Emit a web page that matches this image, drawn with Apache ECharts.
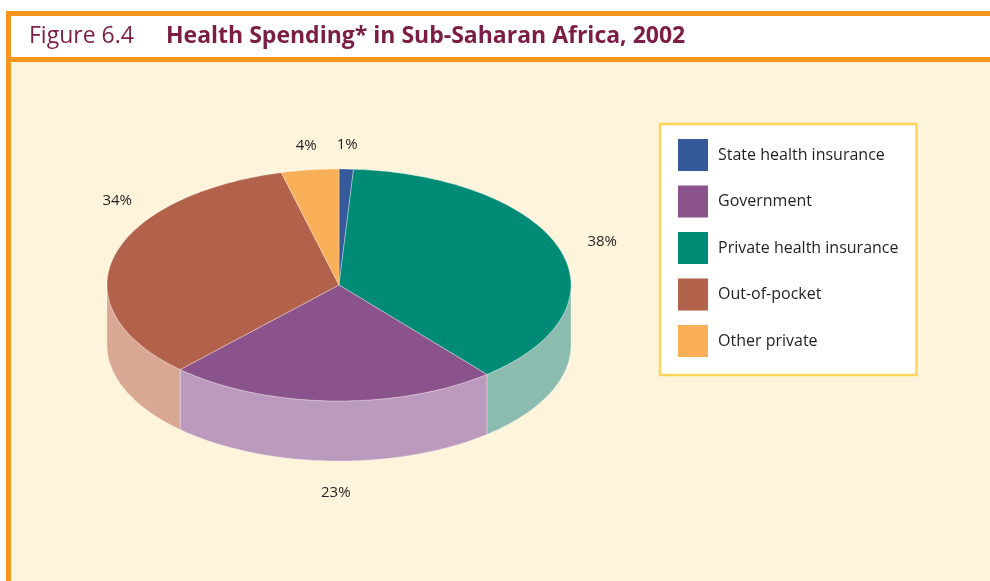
<!DOCTYPE html>
<html>
<head>
<meta charset="utf-8">
<title>Health Spending in Sub-Saharan Africa, 2002</title>
<script src="https://cdn.jsdelivr.net/npm/echarts@6/dist/echarts.min.js"></script>
<style>
  html, body { margin: 0; padding: 0; background: #fff; }
  #main { width: 990px; height: 581px; }
</style>
</head>
<body>
<div id="main"></div>
<script type="text/javascript">
// data, clockwise from 12 o'clock
var categories = ['State health insurance', 'Private health insurance', 'Government', 'Out-of-pocket', 'Other private'];
var shares = [1, 38, 23, 34, 4];
var shareLabels = ['1%', '38%', '23%', '34%', '4%'];
var legendOrder = ['State health insurance', 'Government', 'Private health insurance', 'Out-of-pocket', 'Other private'];

var topColors = ['#35599B', '#008B77', '#8B538B', '#B2614A', '#F9AF58'];
var sideColors = ['#8E9FC6', '#8CBCB0', '#BB9ABD', '#D9A794', '#F9D2A0'];

// 3d pie geometry
var cx = 339, cy = 285, rx = 232, ry = 116, depth = 60;
// manual label nudges (the original labels are hand placed)
var labelNudge = { 'Out-of-pocket': [32, -49], 'Private health insurance': [14, 0], 'Government': [5, 8] };

var font = '"Open Sans", "Noto Sans", sans-serif';
var total = shares.reduce(function (a, b) { return a + b; }, 0);
var cum = [];
shares.reduce(function (acc, v, i) { cum[i] = acc; return acc + v; }, 0);

function arc(a1, a2, dy) {
    var pts = [];
    var steps = Math.max(2, Math.ceil(Math.abs(a2 - a1) / 0.02));
    for (var k = 0; k <= steps; k++) {
        var t = a1 + (a2 - a1) * k / steps;
        pts.push([cx + rx * Math.cos(t), cy + ry * Math.sin(t) + dy]);
    }
    return pts;
}

function renderSlice(params, api) {
    var i = params.dataIndex;
    var a1 = -Math.PI / 2 + cum[i] / total * Math.PI * 2;
    var a2 = a1 + api.value(0) / total * Math.PI * 2;
    var children = [];

    // top face
    children.push({
        type: 'polygon',
        shape: { points: [[cx, cy]].concat(arc(a1, a2, 0)) },
        style: { fill: topColors[i], stroke: 'rgba(255,255,255,0.55)', lineWidth: 0.6 },
        z2: 10
    });

    // front wall (only the half facing the viewer)
    var s = Math.max(a1, 0), e = Math.min(a2, Math.PI);
    if (e > s) {
        children.push({
            type: 'polygon',
            shape: { points: arc(s, e, 0).concat(arc(e, s, depth)) },
            style: { fill: sideColors[i], stroke: 'rgba(255,255,255,0.45)', lineWidth: 0.6 },
            z2: 5
        });
    }

    // label
    var m = (a1 + a2) / 2;
    var nudge = labelNudge[categories[i]] || [0, 0];
    var lx = cx + (rx + 30) * Math.cos(m) + nudge[0];
    var ly = cy + (ry + 24) * Math.sin(m) + (Math.sin(m) > 0 ? depth : 0) + nudge[1];
    children.push({
        type: 'text',
        x: lx,
        y: ly,
        style: {
            text: shareLabels[i],
            fill: '#231F20',
            fontSize: 15,
            fontFamily: font,
            align: 'center',
            verticalAlign: 'middle'
        },
        z2: 20
    });

    return { type: 'group', children: children };
}

var chart = echarts.init(document.getElementById('main'));

var option = {
    backgroundColor: '#fff',
    animation: false,
    graphic: [
        { type: 'rect', z: -10, shape: { x: 11, y: 62, width: 979, height: 519 }, style: { fill: '#FEF4DC' } },
        { type: 'rect', z: -9, shape: { x: 6, y: 11, width: 984, height: 5 }, style: { fill: '#F7941D' } },
        { type: 'rect', z: -9, shape: { x: 6, y: 11, width: 5, height: 570 }, style: { fill: '#F7941D' } },
        { type: 'rect', z: -9, shape: { x: 11, y: 57, width: 979, height: 5 }, style: { fill: '#F7941D' } }
    ],
    title: {
        left: 29,
        top: 25,
        padding: 0,
        text: '{a|Figure 6.4}{b|Health Spending* in Sub-Saharan Africa, 2002}',
        textStyle: {
            rich: {
                a: { fontSize: 23, fontFamily: font, fontWeight: 'normal', color: '#7B1D45', width: 137 },
                b: { fontSize: 23, fontFamily: font, fontWeight: 'bold', color: '#7B1D45' }
            }
        }
    },
    legend: {
        orient: 'vertical',
        left: 660,
        top: 124,
        data: legendOrder,
        icon: 'rect',
        itemWidth: 30,
        itemHeight: 32,
        itemGap: 14.5,
        padding: [15, 18, 18, 18],
        backgroundColor: '#fff',
        borderColor: '#FDD65B',
        borderWidth: 2.5,
        selectedMode: false,
        textStyle: { fontFamily: font, fontSize: 16, color: '#231F20', padding: [0, 0, 0, 5] }
    },
    series: [
        {
            type: 'custom',
            coordinateSystem: 'none',
            silent: true,
            renderItem: renderSlice,
            data: shares.map(function (v) { return [v]; })
        },
        {
            // feeds the legend only
            type: 'pie',
            silent: true,
            radius: [0, 0],
            center: [-50, -50],
            label: { show: false },
            labelLine: { show: false },
            data: categories.map(function (c, i) {
                return { name: c, value: shares[i], itemStyle: { color: topColors[i] } };
            })
        }
    ]
};

chart.setOption(option);
</script>
</body>
</html>
